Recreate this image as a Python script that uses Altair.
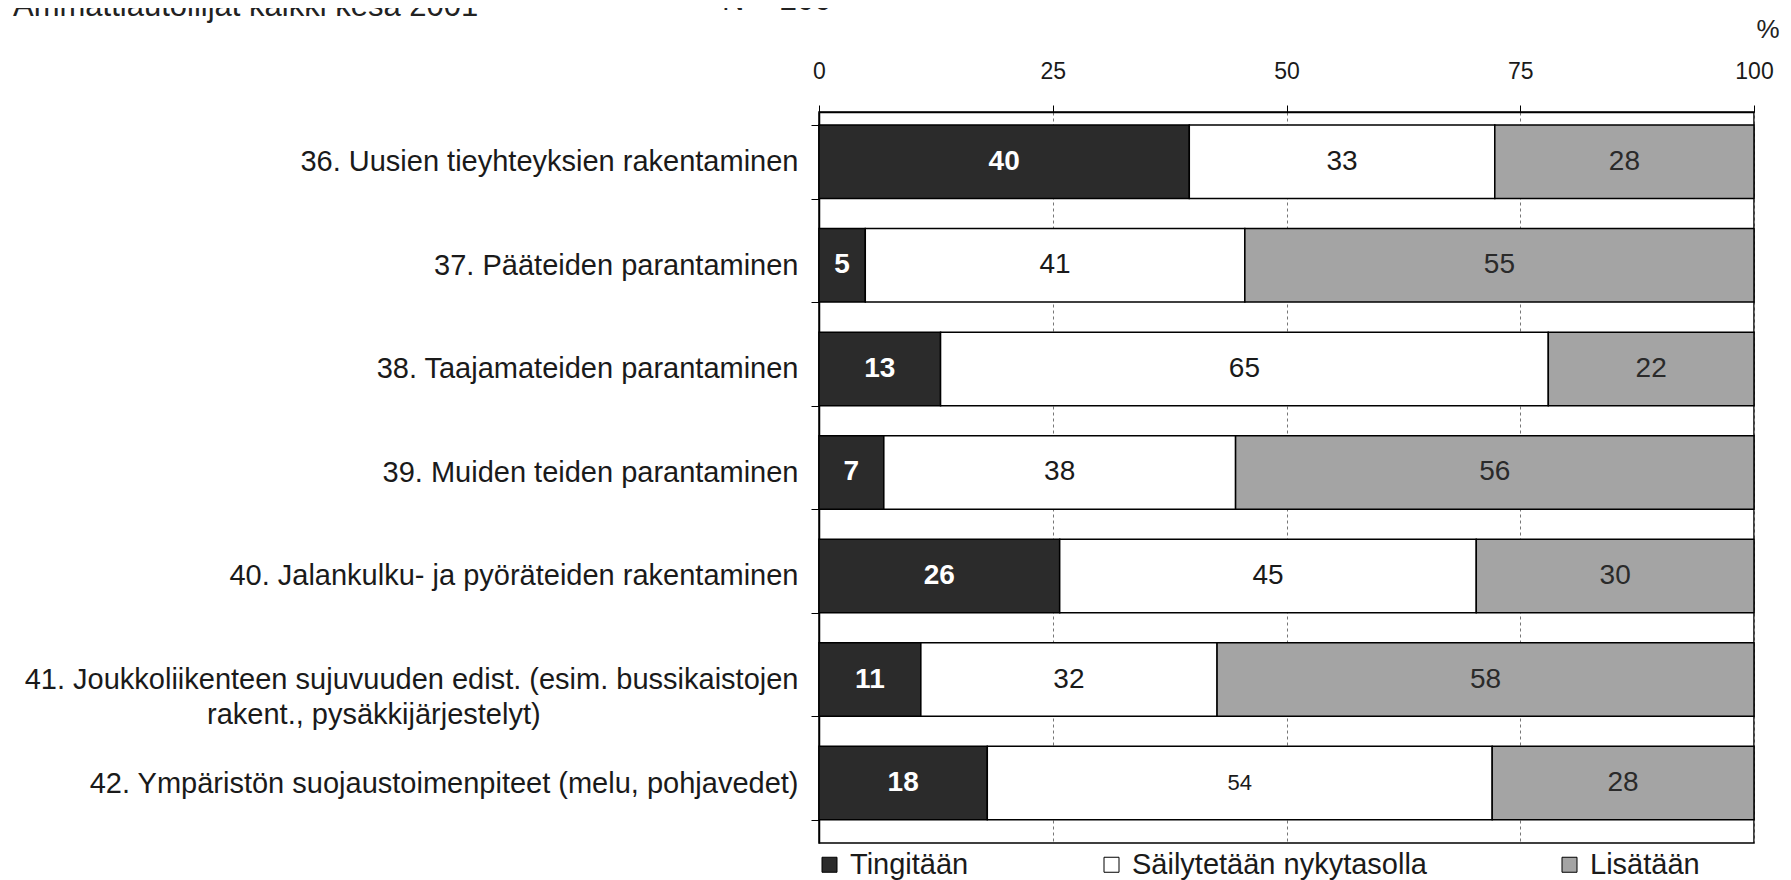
import altair as alt
import pandas as pd

# ---- data ----
items = [
    "36. Uusien tieyhteyksien rakentaminen",
    "37. Pääteiden parantaminen",
    "38. Taajamateiden parantaminen",
    "39. Muiden teiden parantaminen",
    "40. Jalankulku- ja pyöräteiden rakentaminen",
    "41. Joukkoliikenteen sujuvuuden edist. (esim. bussikaistojen\nrakent., pysäkkijärjestelyt)",
    "42. Ympäristön suojaustoimenpiteet (melu, pohjavedet)",
]
categories = ["Tingitään", "Säilytetään nykytasolla", "Lisätään"]
tingitaan = [40, 5, 13, 7, 26, 11, 18]
sailytetaan = [33, 41, 65, 38, 45, 32, 54]
lisataan = [28, 55, 22, 56, 30, 58, 28]
x_ticks = [0, 0.25, 0.5, 0.75, 1.0]
title_text = "Ammattiautoilijat kaikki kesä 2001"
n_text = "N = 200"
unit_text = "%"

# ---- styling constants ----
FONT = "Liberation Sans"
COLORS = ["#2b2b2b", "#ffffff", "#a4a4a4"]
# trailing no-break spaces (closed by a zero-width char so they survive trimming)
# push the 2nd line of the two-line label towards the centre
PAD2 = "\u00a0" * 32 + "\u200b"

def display_label(s):
    if "\n" in s:
        a, b = s.split("\n")
        return a + "\n" + b + PAD2
    return s

labels = [display_label(s) for s in items]

rows = []
for vals, cat_i in ((tingitaan, 0), (sailytetaan, 1), (lisataan, 2)):
    for lab, v in zip(labels, vals):
        rows.append({"item": lab, "cat": categories[cat_i], "order": cat_i, "value": v})
df = pd.DataFrame(rows)

base = alt.Chart(df).transform_stack(
    stack="value",
    groupby=["item"],
    as_=["x0", "x1"],
    offset="normalize",
    sort=[alt.SortField("order", order="ascending")],
).transform_calculate(mid="(datum.x0 + datum.x1) / 2")

y_scale = alt.Scale(paddingInner=0.29, paddingOuter=0.175, align=0.36)

y_enc = alt.Y(
    "item:N",
    sort=labels,
    scale=y_scale,
    axis=alt.Axis(
        title=None,
        labelFontSize=29,
        labelColor="#1a1a1a",
        labelLimit=1000,
        labelPadding=13,
        labelLineHeight=35,
        labelExpr="split(datum.label, '\\n')",
        tickBand="extent",
        tickSize=8,
        tickColor="black",
        domainColor="black",
        domainWidth=1.5,
        grid=False,
    ),
)

x_scale = alt.Scale(domain=[0, 1])

bars = base.mark_bar(stroke="black", strokeWidth=1.5).encode(
    x=alt.X(
        "x0:Q",
        scale=x_scale,
        axis=alt.Axis(
            orient="top",
            title=None,
            values=x_ticks,
            labelExpr="format(datum.value * 100, 'd')",
            labelFontSize=23,
            labelColor="#1a1a1a",
            labelPadding=22,
            labelFlush=False,
            tickSize=7,
            tickColor="black",
            domainColor="black",
            domainWidth=1.5,
            grid=True,
            gridDash=[3, 3],
            gridColor="#777777",
            gridWidth=1,
        ),
    ),
    x2="x1:Q",
    y=y_enc,
    color=alt.Color(
        "cat:N",
        scale=alt.Scale(domain=categories, range=COLORS),
        legend=alt.Legend(
            title=None,
            orient="none",
            direction="horizontal",
            legendX=-4,
            legendY=738,
            symbolType="square",
            symbolSize=225,
            symbolStrokeColor="black",
            symbolStrokeWidth=1,
            labelFontSize=29,
            labelColor="#1a1a1a",
            labelOffset=6,
            columnPadding=128,
            labelLimit=600,
        ),
    ),
)

txt_dark = base.transform_filter(alt.datum.cat == categories[0]).mark_text(
    fontSize=28, fontWeight="bold", color="white", baseline="middle"
).encode(x=alt.X("mid:Q", scale=x_scale), y=alt.Y("item:N", sort=labels), text="value:Q")

txt_white = base.transform_filter(alt.datum.cat == categories[1]).mark_text(
    color="#1a1a1a", baseline="middle"
).encode(
    x=alt.X("mid:Q", scale=x_scale),
    y=alt.Y("item:N", sort=labels),
    text="value:Q",
    size=alt.condition(alt.datum.item == labels[6], alt.value(22), alt.value(28)),
)

txt_gray = base.transform_filter(alt.datum.cat == categories[2]).mark_text(
    fontSize=28, color="#2a2a2a", baseline="middle"
).encode(x=alt.X("mid:Q", scale=x_scale), y=alt.Y("item:N", sort=labels), text="value:Q")

title_df = pd.DataFrame({"t": [title_text]})
title_mark = alt.Chart(title_df).mark_text(
    align="left", baseline="alphabetic", fontSize=31, color="#222222", x=-806, y=-96
).encode(text="t:N")

n_df = pd.DataFrame({"t": [n_text]})
n_mark = alt.Chart(n_df).mark_text(
    align="left", baseline="alphabetic", fontSize=31, color="#222222", x=-97, y=-102
).encode(text="t:N")

unit_df = pd.DataFrame({"t": [unit_text]})
unit_mark = alt.Chart(unit_df).mark_text(
    align="center", baseline="middle", fontSize=26, color="#222222", x=949, y=-82
).encode(text="t:N")

chart = alt.layer(bars, txt_dark, txt_white, txt_gray, title_mark, n_mark, unit_mark).properties(
    width=935,
    height=731,
    padding={"left": 811, "top": 104, "right": 29, "bottom": 37},
    autosize=alt.AutoSizeParams(type="none"),
).configure(font=FONT).configure_view(stroke="black", strokeWidth=1.5)

chart.save("out.html", embed_options={"renderer": "svg", "actions": False})
